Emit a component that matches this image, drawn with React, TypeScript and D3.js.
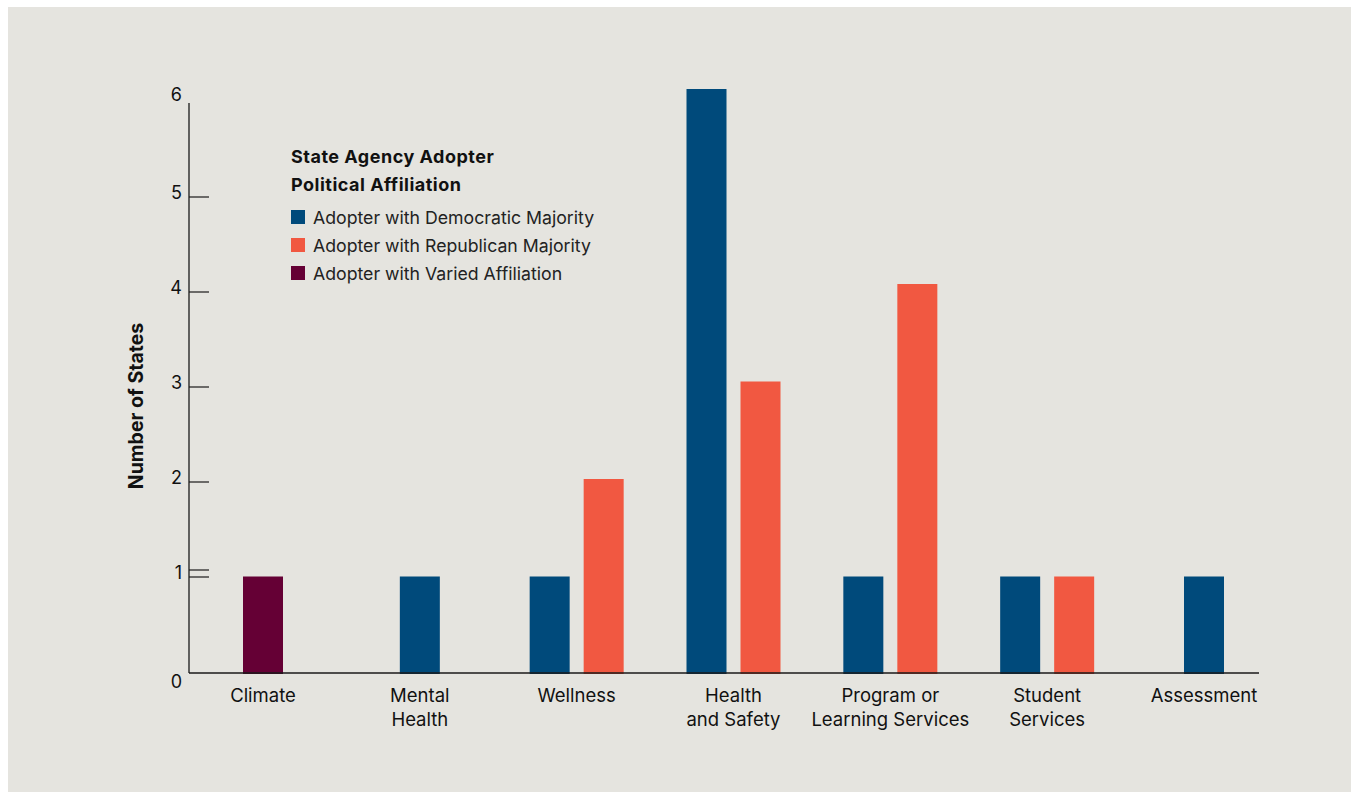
import React from "react";
import * as d3 from "d3";

const categories = ["Climate", "Mental Health", "Wellness", "Health and Safety", "Program or Learning Services", "Student Services", "Assessment"];
const categoryLines = [["Climate"], ["Mental", "Health"], ["Wellness"], ["Health", "and Safety"], ["Program or", "Learning Services"], ["Student", "Services"], ["Assessment"]];
const democratic = [0, 1, 1, 6, 1, 1, 1];
const republican = [0, 0, 2, 3, 4, 1, 0];
const varied = [1, 0, 0, 0, 0, 0, 0];
const yTicks = [0, 1, 2, 3, 4, 5, 6];
const seriesNames = ["Adopter with Democratic Majority", "Adopter with Republican Majority", "Adopter with Varied Affiliation"];
const seriesColors = ["#004a7b", "#f15841", "#650035"];
const legendTitle = ["State Agency Adopter", "Political Affiliation"];
const yTitle = "Number of States";

const FONT = "Inter, 'Liberation Sans', Arial, sans-serif";

export default function App() {
  const series = [democratic, republican, varied];
  const x = d3.scalePoint<string>().domain(categories).range([263, 1204]);
  const yBar = d3.scaleLinear().domain([0, 6]).range([674, 89]);
  const yAxis = d3.scaleLinear().domain([0, 6]).range([672, 102]);
  const barW = 40;
  const pairStep = 54;

  const bars: { key: string; x: number; y: number; h: number; color: string }[] = [];
  categories.forEach((c, i) => {
    const present = series.map((s, j) => ({ v: s[i], j })).filter((d) => d.v > 0);
    present.forEach((d, k) => {
      const cx = (x(c) as number) + (k - (present.length - 1) / 2) * pairStep;
      bars.push({ key: c + d.j, x: cx - barW / 2, y: yBar(d.v), h: yBar(0) - yBar(d.v), color: seriesColors[d.j] });
    });
  });

  return (
    <svg width={1353} height={792} style={{ position: "absolute", left: 0, top: 0, display: "block" }} fontFamily={FONT}>
      <rect x={0} y={0} width={1353} height={792} fill="#ffffff" />
      <rect x={8} y={7} width={1343} height={785} fill="#e5e4df" />

      {bars.map((b) => (
        <rect key={b.key} x={b.x} y={b.y} width={barW} height={b.h} fill={b.color} />
      ))}

      {/* y axis */}
      <line x1={189} x2={189} y1={yAxis(6) + 1} y2={673} stroke="#1a1a1a" strokeWidth={1.3} />
      {yTicks.filter((t) => t > 0 && t < 6).map((t) => (
        <line key={"t" + t} x1={189} x2={209} y1={yAxis(t)} y2={yAxis(t)} stroke="#1a1a1a" strokeWidth={1.2} />
      ))}
      <line x1={189} x2={209} y1={yAxis(1) - 7} y2={yAxis(1) - 7} stroke="#1a1a1a" strokeWidth={1.2} />
      {yTicks.map((t) => (
        <text key={"l" + t} x={182} y={yAxis(t) + (t === 0 ? 16 : t === 6 ? -1 : 2)} textAnchor="end" fontSize={18} fill="#111">
          {t}
        </text>
      ))}
      <text transform="translate(143,406) rotate(-90)" textAnchor="middle" fontSize={19.5} fontWeight={700} fill="#111">
        {yTitle}
      </text>

      {/* x axis */}
      <line x1={189} x2={1259} y1={673} y2={673} stroke="#1a1a1a" strokeWidth={1.3} />
      {categories.map((c, i) => (
        <text key={c} x={x(c)} textAnchor="middle" fontSize={18.5} fill="#111">
          {categoryLines[i].map((ln, k) => (
            <tspan key={k} x={x(c)} y={701.5 + k * 24}>
              {ln}
            </tspan>
          ))}
        </text>
      ))}

      {/* legend */}
      {legendTitle.map((t, k) => (
        <text key={t} x={291} y={163 + k * 27.5} fontSize={18} letterSpacing={0.5} fontWeight={700} fill="#111">
          {t}
        </text>
      ))}
      {seriesNames.map((n, k) => (
        <g key={n}>
          <rect x={291} y={210 + k * 28} width={14} height={14} fill={seriesColors[k]} />
          <text x={313} y={223.5 + k * 28} fontSize={17.7} fill="#222">
            {n}
          </text>
        </g>
      ))}
    </svg>
  );
}
